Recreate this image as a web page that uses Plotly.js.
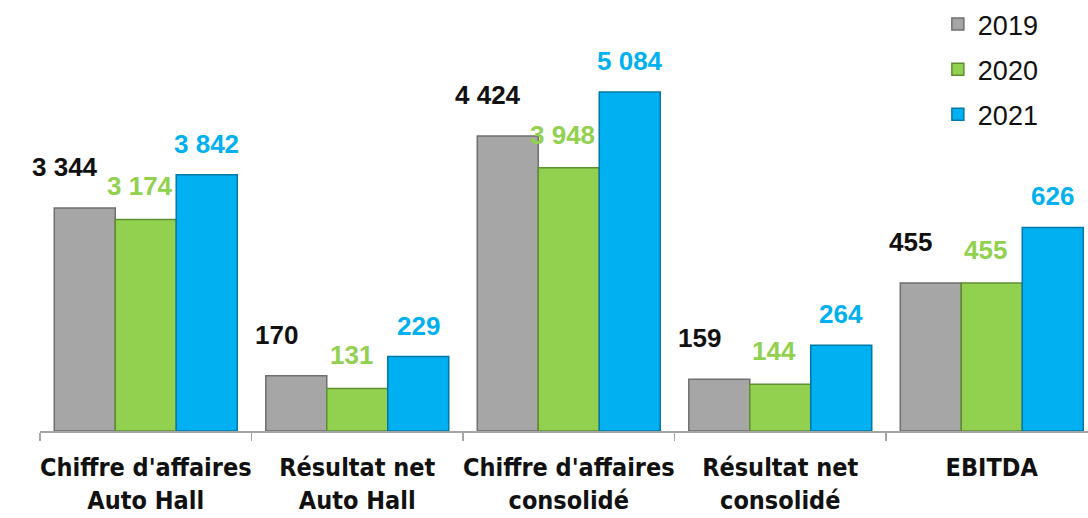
<!DOCTYPE html>
<html>
<head>
<meta charset="utf-8">
<script src="https://cdn.plot.ly/plotly-3.0.1.min.js"></script>
<style>html,body{margin:0;padding:0;background:#fff}#chart{width:1088px;height:518px}</style>
</head>
<body>
<div id="chart"></div>
<script>
// ---- data ----
const categories = ["Chiffre d'affaires<br>Auto Hall", "Résultat net<br>Auto Hall", "Chiffre d'affaires<br>consolidé", "Résultat net<br>consolidé", "EBITDA"];
const years = ["2019", "2020", "2021"];
const v2019 = [3344, 170, 4424, 159, 455];
const v2020 = [3174, 131, 3948, 144, 455];
const v2021 = [3842, 229, 5084, 264, 626];
// categories drawn against the large (primary) scale; the others use the secondary scale
const onPrimaryAxis = [true, false, true, false, false];

// ---- style ----
const fills = ["#a6a6a6", "#92d050", "#00b0f0"];
const edges = ["#6f6f6f", "#5f8f2f", "#0079a8"];
const labelColors = ["#111111", "#92d050", "#00b0f0"];
const labelShift = [[-20, 24], [-6, 16], [0, 14]];
const bargap = 0.135;

const series = [v2019, v2020, v2021];
function fmt(v) { return String(v).replace(/\B(?=(\d{3})+(?!\d))/g, "\u00a0"); }

const traces = [];
const annotations = [];
const barW = (1 - bargap) / 3;
series.forEach((vals, k) => {
  ["y", "y2"].forEach((ax, j) => {
    const primary = j === 0;
    traces.push({
      type: "bar",
      x: categories,
      y: vals.map((v, i) => (onPrimaryAxis[i] === primary ? v : null)),
      yaxis: ax,
      name: years[k],
      legendgroup: years[k],
      showlegend: primary,
      marker: { color: fills[k], line: { color: edges[k], width: 1.5 } },
      hoverinfo: "skip"
    });
  });
  vals.forEach((v, i) => {
    annotations.push({
      x: i + (k - 1) * barW,
      y: v,
      xref: "x",
      yref: onPrimaryAxis[i] ? "y" : "y2",
      text: fmt(v),
      showarrow: false,
      yanchor: "bottom",
      xshift: labelShift[k][0],
      yshift: labelShift[k][1],
      font: { family: "Liberation Sans, Arial, sans-serif", size: 26, color: labelColors[k], weight: "bold" }
    });
  });
});

const layout = {
  width: 1088,
  height: 518,
  margin: { l: 40, r: 0, t: 31, b: 87, autoexpand: false },
  paper_bgcolor: "#ffffff",
  plot_bgcolor: "#ffffff",
  barmode: "group",
  bargap: bargap,
  bargroupgap: 0,
  showlegend: true,
  legend: {
    xref: "container", yref: "container",
    x: 0.862, y: 1.0, xanchor: "left", yanchor: "top",
    font: { family: "Liberation Sans, Arial, sans-serif", size: 27, color: "#111" },
    tracegroupgap: 7,
    itemwidth: 30,
    bgcolor: "rgba(0,0,0,0)"
  },
  xaxis: {
    type: "category",
    categoryorder: "array",
    categoryarray: categories,
    range: [-0.5, 4.455],
    automargin: false,
    tickangle: 0,
    ticklabelstandoff: 13,
    showline: true, linecolor: "#a6a6a6", linewidth: 2,
    ticks: "outside", tickson: "boundaries", ticklen: 8, tickcolor: "#a6a6a6", tickwidth: 1.5,
    showgrid: false, zeroline: false,
    tickfont: { family: "DejaVu Sans Condensed, Liberation Sans, sans-serif", size: 25, color: "#111", weight: "bold" },
    fixedrange: true
  },
  yaxis: { range: [0, 6000], visible: false, showgrid: false, zeroline: false, fixedrange: true },
  yaxis2: { range: [0, 1230], overlaying: "y", visible: false, showgrid: false, zeroline: false, fixedrange: true },
  annotations: annotations
};

Plotly.newPlot("chart", traces, layout, { staticPlot: true, displayModeBar: false });
</script>
</body>
</html>
